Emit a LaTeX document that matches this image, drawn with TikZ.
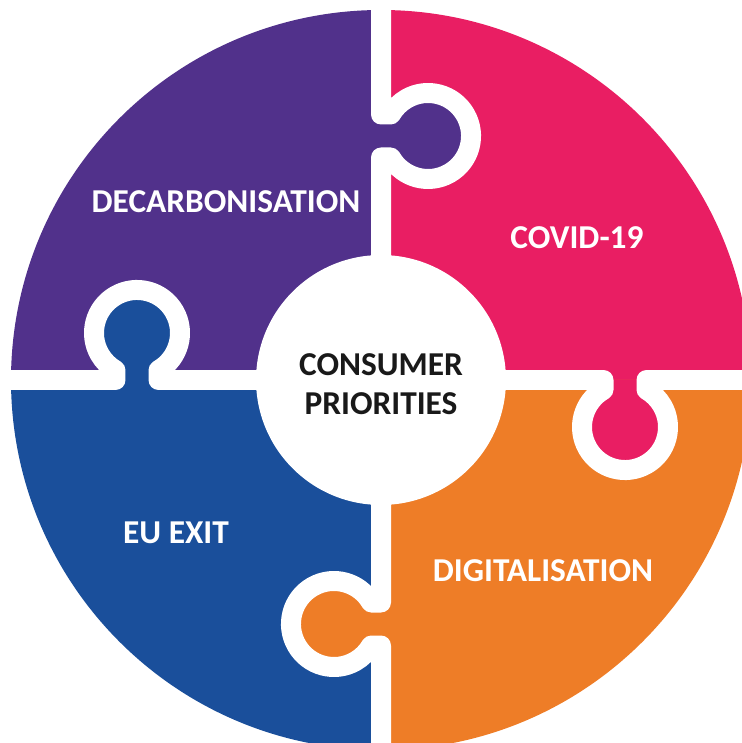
\documentclass[tikz,border=0pt]{standalone}
\usepackage{fontspec}
\setmainfont{Carlito}
\definecolor{decarbpurple}{RGB}{81,49,139}
\definecolor{covidpink}{RGB}{233,30,99}
\definecolor{digitalorange}{RGB}{238,125,39}
\definecolor{exitblue}{RGB}{26,79,155}
\tikzstyle{cutline}=[draw=white,line width=0.4cm,line join=round]
\tikzstyle{piecelabel}=[text=white,font=\fontsize{19}{22}\selectfont\bfseries]
\tikzstyle{hub}=[circle,fill=white,minimum size=5cm,inner sep=0pt]
\tikzstyle{hubtext}=[align=center,text=black!90,font=\fontsize{19}{22}\selectfont\bfseries]

\begin{document}
\begin{tikzpicture}[x=0.02cm,y=0.02cm]
    \useasboundingbox (-381,-363) rectangle (360,380);
    % First we fill the four quarters
    \foreach \col/\start in {covidpink/0, decarbpurple/90, exitblue/180, digitalorange/270}
        \fill[\col] (0,0) -- (\start:370) arc[start angle=\start, end angle=\start+90, radius=370] -- cycle;
    % Then each tab, turned onto its own cut, and the white cut over it
    \foreach \turn/\col in {0/decarbpurple, -90/covidpink, -180/digitalorange, -270/exitblue}
    {
        \begin{scope}[rotate=\turn]
            \fill[\col] (0,222.5) -- (9.8,222.5) arc[start angle=-150, end angle=150, radius=43] -- (0,265.5) -- cycle;
            \path[cutline] (0,0) -- (0,222.5) -- (9.8,222.5) arc[start angle=-150, end angle=150, radius=43] -- (0,265.5) -- (0,385);
        \end{scope}
    }
    % Hole in the middle
    \node[hub] (hub) at (0,0) {};
    \node[hubtext] (hubtext) at (0,-4) {CONSUMER\\PRIORITIES};
    % Names of the pieces
    \foreach \pos/\name/\word in {(-155,178)/decarb/DECARBONISATION, (196,142)/covid/COVID-19, (-205,-153)/euexit/EU EXIT, (162,-191)/digital/DIGITALISATION}
        \node[piecelabel] (\name) at \pos {\word};
\end{tikzpicture}
\end{document}
